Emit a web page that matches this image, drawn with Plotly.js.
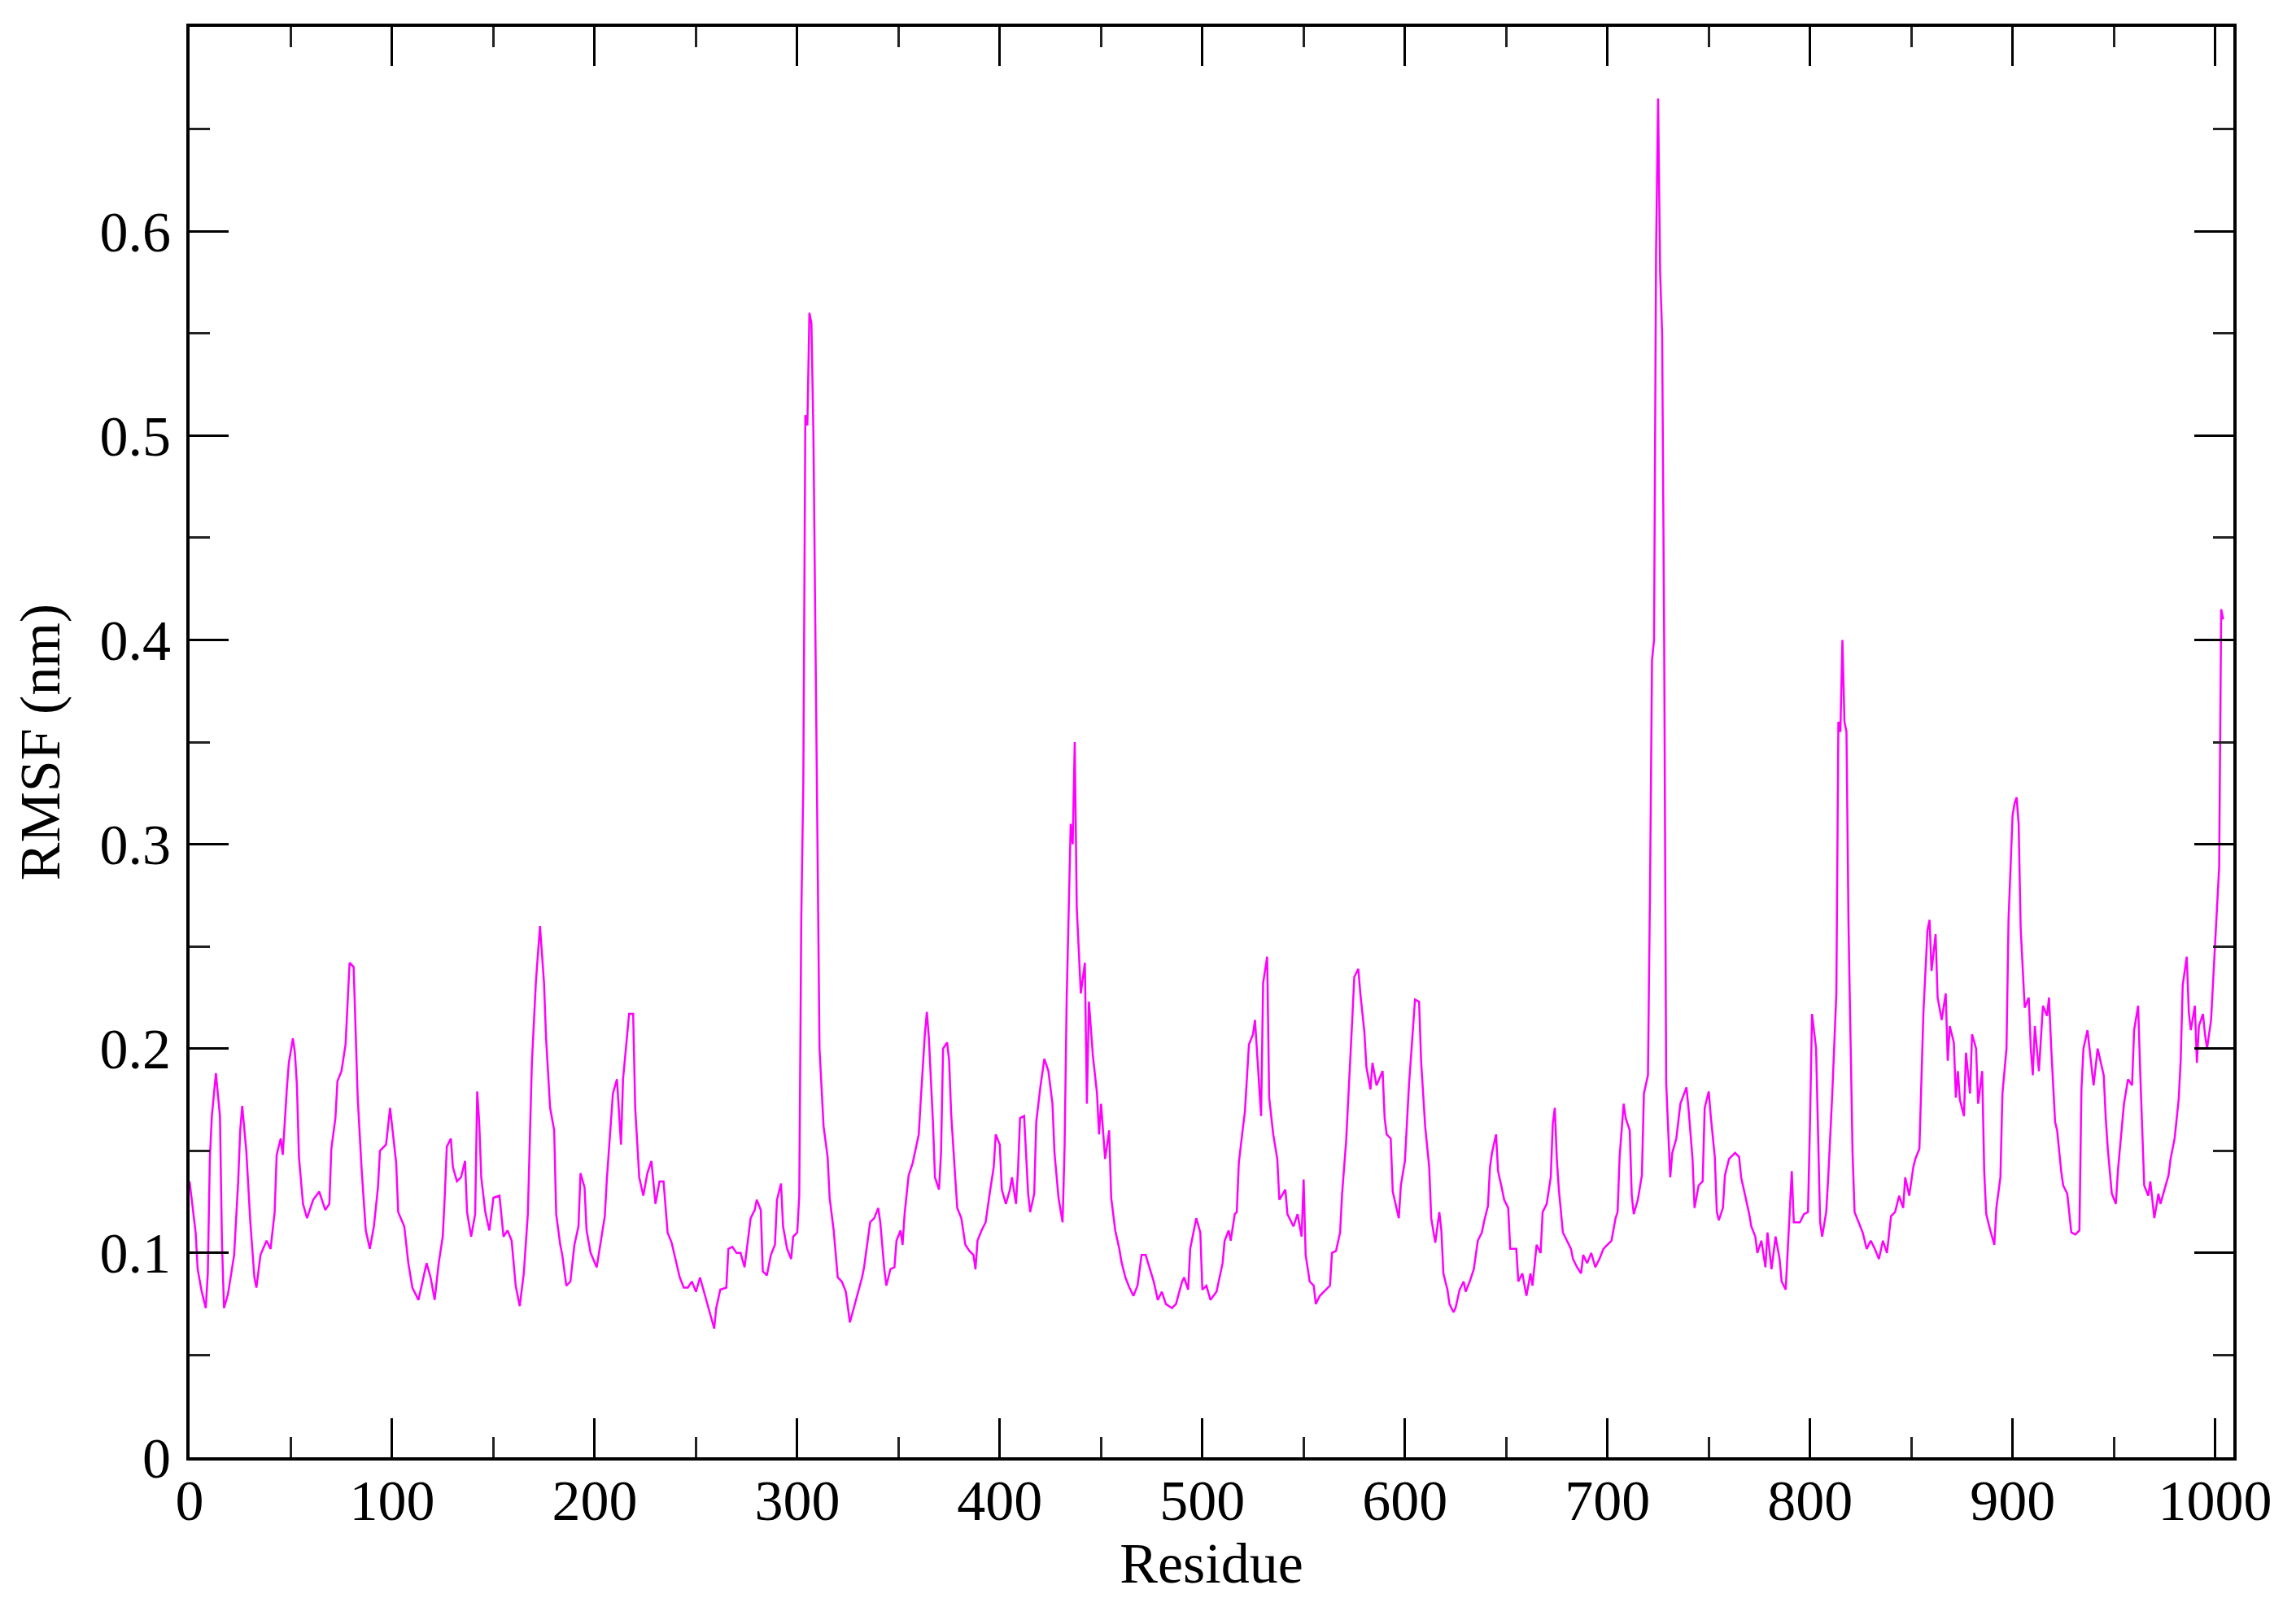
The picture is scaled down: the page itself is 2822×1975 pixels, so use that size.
<!DOCTYPE html>
<html>
<head>
<meta charset="utf-8">
<script src="https://cdn.plot.ly/plotly-3.0.1.min.js"></script>
<style>
  body { margin: 0; background: #fff; }
  #myDiv { width: 2822px; height: 1975px; }
</style>
</head>
<body>
<div id="myDiv"></div>
<script>
// residue numbers
let residue = [
  0, 3, 4, 6, 8, 9, 10, 11, 13, 15, 16, 17, 19, 22, 24, 25, 26, 28, 30, 32,
  33, 35, 38, 40, 42, 43, 45, 46, 48, 49, 51, 52, 53, 54, 56, 58, 61, 64, 67, 69,
  70, 72, 73, 75, 77, 79, 81, 82, 83, 85, 87, 89, 91, 93, 94, 97, 99, 100, 102, 103,
  106, 108, 110, 113, 115, 117, 119, 121, 123, 125, 126, 127, 129, 130, 132, 134, 136, 137, 139, 141,
  142, 143, 144, 146, 148, 150, 153, 155, 157, 159, 161, 163, 165, 167, 169, 171, 173, 175, 176, 178,
  180, 181, 183, 184, 186, 188, 190, 192, 193, 195, 196, 198, 201, 203, 205, 206, 208, 209, 211, 213,
  214, 215, 217, 219, 220, 222, 224, 226, 228, 230, 232, 234, 236, 238, 240, 242, 244, 246, 248, 250,
  252, 254, 257, 259, 260, 262, 265, 266, 268, 270, 272, 274, 275, 277, 279, 280, 282, 283, 285, 287,
  289, 290, 292, 293, 295, 297, 298, 300, 301, 302, 303, 304, 305, 306, 307, 308, 309, 310, 311, 312,
  313, 315, 316, 318, 320, 322, 324, 326, 328, 330, 332, 333, 335, 336, 338, 340, 341, 343, 344, 346,
  348, 349, 351, 352, 353, 355, 357, 359, 360, 361, 363, 364, 365, 367, 368, 370, 371, 372, 374, 375,
  376, 378, 379, 381, 383, 385, 387, 388, 389, 391, 393, 395, 397, 398, 400, 401, 403, 405, 406, 408,
  409, 410, 412, 414, 415, 417, 418, 420, 422, 424, 426, 427, 429, 431, 432, 433, 434, 435, 436, 437,
  438, 440, 442, 443, 444, 446, 448, 449, 450, 452, 454, 455, 457, 459, 460, 462, 464, 466, 468, 470,
  472, 474, 476, 478, 480, 482, 485, 487, 490, 491, 493, 494, 496, 497, 499, 500, 502, 504, 507, 508,
  510, 511, 513, 514, 516, 517, 518, 520, 521, 523, 525, 526, 528, 529, 530, 532, 533, 535, 537, 538,
  541, 542, 545, 547, 549, 550, 551, 553, 555, 556, 558, 561, 563, 564, 566, 568, 569, 571, 572, 574,
  575, 577, 578, 580, 581, 583, 584, 586, 589, 590, 591, 593, 594, 596, 597, 598, 600, 602, 604, 605,
  607, 608, 610, 612, 613, 615, 617, 618, 619, 621, 622, 624, 625, 627, 629, 630, 632, 634, 636, 638,
  639, 641, 642, 643, 645, 646, 648, 649, 651, 652, 655, 656, 658, 660, 662, 663, 665, 667, 668, 670,
  672, 673, 674, 675, 676, 678, 680, 682, 683, 685, 687, 688, 690, 692, 694, 696, 698, 700, 702, 704,
  705, 706, 708, 709, 711, 712, 713, 715, 717, 718, 720, 721, 722, 723, 724, 725, 726, 727, 728, 729,
  731, 732, 734, 736, 738, 739, 740, 742, 743, 745, 747, 748, 750, 751, 753, 754, 755, 757, 758, 760,
  762, 763, 765, 766, 768, 770, 771, 773, 774, 776, 778, 779, 781, 783, 785, 786, 788, 789, 790, 791,
  792, 795, 797, 799, 800, 801, 803, 804, 805, 806, 808, 809, 811, 813, 814, 815, 816, 817, 818, 819,
  821, 822, 824, 826, 828, 830, 832, 834, 836, 838, 840, 842, 844, 846, 847, 849, 851, 852, 854, 855,
  856, 858, 859, 860, 862, 863, 865, 867, 868, 869, 871, 872, 873, 874, 876, 877, 879, 880, 882, 883,
  885, 886, 887, 889, 891, 892, 894, 895, 897, 898, 900, 901, 902, 903, 904, 906, 908, 909, 910, 911,
  913, 915, 917, 918, 919, 921, 922, 924, 925, 927, 929, 931, 933, 934, 935, 937, 939, 940, 942, 943,
  945, 946, 947, 949, 951, 952, 954, 955, 957, 959, 960, 962, 963, 964, 965, 967, 968, 970, 972, 973,
  975, 977, 978, 980, 982, 983, 984, 986, 987, 988, 990, 991, 992, 994, 995, 996, 998, 999, 1000, 1002,
  1003, 1004
];

// RMSF values (nm), same order as residue
let rmsf = [
  0.135, 0.110, 0.092, 0.081, 0.073, 0.090, 0.146, 0.167, 0.188, 0.167, 0.105, 0.073, 0.080, 0.099, 0.135, 0.160, 0.172, 0.150, 0.115, 0.088,
  0.083, 0.099, 0.106, 0.102, 0.120, 0.148, 0.156, 0.148, 0.180, 0.193, 0.205, 0.198, 0.182, 0.147, 0.124, 0.117, 0.126, 0.130, 0.121, 0.124,
  0.151, 0.166, 0.184, 0.189, 0.202, 0.242, 0.240, 0.203, 0.176, 0.140, 0.111, 0.102, 0.113, 0.132, 0.150, 0.153, 0.171, 0.162, 0.144, 0.120,
  0.113, 0.095, 0.083, 0.077, 0.086, 0.095, 0.088, 0.077, 0.095, 0.108, 0.128, 0.152, 0.156, 0.142, 0.135, 0.137, 0.145, 0.120, 0.108, 0.119,
  0.179, 0.164, 0.137, 0.120, 0.111, 0.127, 0.128, 0.108, 0.111, 0.106, 0.084, 0.074, 0.090, 0.119, 0.193, 0.233, 0.260, 0.232, 0.205, 0.171,
  0.160, 0.119, 0.104, 0.099, 0.084, 0.086, 0.104, 0.113, 0.139, 0.132, 0.111, 0.100, 0.093, 0.106, 0.118, 0.136, 0.162, 0.178, 0.185, 0.153,
  0.185, 0.195, 0.217, 0.217, 0.171, 0.137, 0.128, 0.139, 0.145, 0.124, 0.135, 0.135, 0.110, 0.105, 0.097, 0.088, 0.083, 0.083, 0.086, 0.081,
  0.088, 0.081, 0.070, 0.063, 0.073, 0.082, 0.083, 0.102, 0.103, 0.100, 0.100, 0.093, 0.101, 0.117, 0.121, 0.126, 0.121, 0.091, 0.089, 0.099,
  0.104, 0.126, 0.134, 0.113, 0.102, 0.097, 0.108, 0.110, 0.128, 0.264, 0.330, 0.510, 0.505, 0.560, 0.555, 0.500, 0.400, 0.286, 0.200, 0.181,
  0.162, 0.147, 0.127, 0.111, 0.088, 0.086, 0.081, 0.066, 0.073, 0.081, 0.088, 0.093, 0.108, 0.115, 0.117, 0.122, 0.115, 0.092, 0.084, 0.092,
  0.093, 0.106, 0.111, 0.104, 0.119, 0.138, 0.144, 0.153, 0.158, 0.175, 0.207, 0.218, 0.205, 0.164, 0.137, 0.131, 0.149, 0.200, 0.203, 0.194,
  0.168, 0.137, 0.122, 0.117, 0.104, 0.101, 0.099, 0.092, 0.106, 0.111, 0.115, 0.129, 0.142, 0.158, 0.153, 0.131, 0.124, 0.131, 0.137, 0.124,
  0.141, 0.166, 0.167, 0.129, 0.120, 0.129, 0.164, 0.181, 0.195, 0.189, 0.173, 0.149, 0.127, 0.115, 0.152, 0.223, 0.270, 0.310, 0.300, 0.350,
  0.269, 0.227, 0.242, 0.173, 0.223, 0.196, 0.178, 0.158, 0.173, 0.146, 0.160, 0.127, 0.111, 0.102, 0.096, 0.088, 0.083, 0.079, 0.084, 0.099,
  0.099, 0.092, 0.086, 0.077, 0.081, 0.075, 0.073, 0.075, 0.086, 0.088, 0.082, 0.102, 0.113, 0.117, 0.110, 0.082, 0.084, 0.077, 0.081, 0.086,
  0.095, 0.106, 0.111, 0.106, 0.119, 0.120, 0.144, 0.161, 0.169, 0.202, 0.207, 0.214, 0.185, 0.167, 0.232, 0.245, 0.176, 0.158, 0.146, 0.126,
  0.131, 0.119, 0.113, 0.119, 0.108, 0.136, 0.099, 0.086, 0.084, 0.075, 0.079, 0.082, 0.084, 0.100, 0.101, 0.110, 0.129, 0.155, 0.173, 0.214,
  0.235, 0.239, 0.227, 0.208, 0.191, 0.180, 0.193, 0.182, 0.189, 0.166, 0.158, 0.156, 0.130, 0.122, 0.117, 0.133, 0.145, 0.182, 0.212, 0.224,
  0.223, 0.194, 0.162, 0.142, 0.117, 0.105, 0.120, 0.111, 0.090, 0.082, 0.075, 0.071, 0.073, 0.082, 0.086, 0.081, 0.086, 0.092, 0.106, 0.110,
  0.115, 0.123, 0.142, 0.149, 0.158, 0.140, 0.131, 0.126, 0.122, 0.102, 0.102, 0.086, 0.090, 0.079, 0.090, 0.084, 0.104, 0.100, 0.120, 0.124,
  0.137, 0.163, 0.171, 0.146, 0.131, 0.110, 0.106, 0.102, 0.097, 0.093, 0.090, 0.099, 0.095, 0.100, 0.093, 0.097, 0.102, 0.104, 0.106, 0.117,
  0.120, 0.147, 0.173, 0.166, 0.160, 0.128, 0.119, 0.126, 0.138, 0.178, 0.187, 0.277, 0.390, 0.400, 0.590, 0.665, 0.580, 0.550, 0.400, 0.183,
  0.137, 0.149, 0.156, 0.173, 0.178, 0.181, 0.171, 0.146, 0.122, 0.133, 0.135, 0.171, 0.179, 0.167, 0.147, 0.120, 0.116, 0.122, 0.138, 0.146,
  0.148, 0.149, 0.147, 0.137, 0.128, 0.119, 0.113, 0.108, 0.100, 0.106, 0.093, 0.110, 0.092, 0.108, 0.097, 0.086, 0.082, 0.100, 0.122, 0.140,
  0.115, 0.115, 0.119, 0.120, 0.164, 0.217, 0.200, 0.156, 0.115, 0.108, 0.120, 0.137, 0.178, 0.227, 0.360, 0.355, 0.400, 0.360, 0.355, 0.261,
  0.149, 0.120, 0.115, 0.110, 0.102, 0.106, 0.102, 0.097, 0.106, 0.100, 0.118, 0.120, 0.128, 0.122, 0.137, 0.128, 0.142, 0.146, 0.151, 0.189,
  0.218, 0.258, 0.263, 0.238, 0.256, 0.225, 0.214, 0.227, 0.194, 0.211, 0.203, 0.176, 0.189, 0.175, 0.167, 0.198, 0.178, 0.207, 0.200, 0.173,
  0.189, 0.140, 0.119, 0.111, 0.104, 0.122, 0.137, 0.178, 0.200, 0.263, 0.314, 0.320, 0.323, 0.310, 0.259, 0.220, 0.225, 0.200, 0.187, 0.211,
  0.189, 0.221, 0.216, 0.225, 0.202, 0.164, 0.160, 0.140, 0.133, 0.129, 0.110, 0.109, 0.111, 0.180, 0.200, 0.209, 0.189, 0.182, 0.200, 0.196,
  0.187, 0.166, 0.151, 0.129, 0.124, 0.140, 0.160, 0.173, 0.185, 0.182, 0.209, 0.221, 0.189, 0.164, 0.133, 0.128, 0.135, 0.117, 0.129, 0.124,
  0.131, 0.138, 0.146, 0.156, 0.175, 0.194, 0.231, 0.245, 0.218, 0.209, 0.221, 0.193, 0.211, 0.217, 0.207, 0.200, 0.214, 0.232, 0.252, 0.289,
  0.415, 0.410
];

let xTicks = [0, 100, 200, 300, 400, 500, 600, 700, 800, 900, 1000];
let yTicks = [0, 0.1, 0.2, 0.3, 0.4, 0.5, 0.6];

var serif = 'Liberation Serif, Times New Roman, serif';

var trace1 = {
  x: residue,
  y: rmsf,
  mode: 'lines',
  type: 'scatter',
  line: { color: '#ff00ff', width: 2.5 },
  hoverinfo: 'skip'
};

var axisBase = {
  showline: true,
  linecolor: '#000',
  linewidth: 4,
  mirror: 'ticks',
  ticks: 'inside',
  tickcolor: '#000',
  tickwidth: 3,
  ticklen: 48,
  showgrid: false,
  zeroline: false,
  tickfont: { family: serif, size: 70, color: '#000' },
  minor: { ticks: 'inside', ticklen: 25, tickwidth: 3, tickcolor: '#222', showgrid: false }
};

var layout = {
  width: 2822,
  height: 1975,
  paper_bgcolor: '#fff',
  plot_bgcolor: '#fff',
  showlegend: false,
  margin: { l: 233, r: 77, t: 33, b: 184 },
  xaxis: Object.assign({}, axisBase, {
    range: [0, 1009],
    tickmode: 'array',
    tickvals: xTicks,
    ticktext: xTicks.map(String),
    minor: Object.assign({}, axisBase.minor, { dtick: 50, tick0: 0 }),
    ticklabelstandoff: -11,
    title: { text: 'Residue', font: { family: serif, size: 70, color: '#000' }, standoff: 14 }
  }),
  yaxis: Object.assign({}, axisBase, {
    range: [0, 0.7],
    tickmode: 'array',
    tickvals: yTicks,
    ticktext: yTicks.map(String),
    minor: Object.assign({}, axisBase.minor, { dtick: 0.05, tick0: 0 }),
    ticklabelstandoff: 5,
    title: { text: 'RMSF (nm)', font: { family: serif, size: 70, color: '#000' }, standoff: 27 }
  })
};

var config = { displayModeBar: false, responsive: false };

Plotly.newPlot('myDiv', [trace1], layout, config);
</script>
</body>
</html>
